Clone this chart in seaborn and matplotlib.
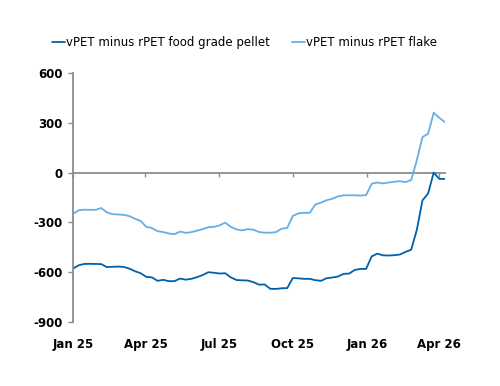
import pandas as pd
import matplotlib.pyplot as plt
import seaborn as sns

# weekly spreads, USD/t
dates = pd.date_range('2025-01-01', periods=67, freq='7D')

pellet = [-580, -560, -552, -551, -552, -553, -571, -569, -568, -570,
          -580, -596, -608, -630, -633, -654, -648, -656, -656, -640,
          -647, -642, -632, -619, -602, -605, -610, -608, -633, -649,
          -651, -652, -662, -677, -676, -702, -703, -699, -698, -637,
          -639, -642, -642, -650, -654, -638, -634, -628, -612, -610,
          -588, -582, -582, -506, -490, -500, -501, -499, -495, -479,
          -466, -346, -168, -126, 0, -38, -38]

flake = [-250, -228, -224, -225, -225, -214, -240, -251, -253, -255,
         -263, -279, -292, -328, -335, -354, -359, -368, -372, -356,
         -364, -360, -351, -342, -330, -328, -319, -302, -328, -343,
         -349, -342, -345, -359, -363, -363, -360, -339, -334, -262,
         -246, -243, -243, -193, -181, -167, -158, -144, -137, -137,
         -137, -139, -136, -67, -60, -65, -60, -55, -52, -57,
         -45, 75, 215, 235, 362, 331, 305]

series_names = ['vPET minus rPET food grade pellet', 'vPET minus rPET flake']
colors = ['#0060AA', '#66AEE6']

tick_dates = pd.to_datetime(['2025-01-01', '2025-04-01', '2025-07-01',
                             '2025-10-01', '2026-01-01', '2026-04-01'])
tick_labels = ['Jan 25', 'Apr 25', 'Jul 25', 'Oct 25', 'Jan 26', 'Apr 26']
y_ticks = [600, 300, 0, -300, -600, -900]

df = pd.DataFrame({'date': list(dates) * 2,
                   'value': pellet + flake,
                   'series': [series_names[0]] * len(dates) + [series_names[1]] * len(dates)})

sns.set_style('white')
plt.rcParams['font.family'] = ['DejaVu Sans']
plt.rcParams['text.color'] = 'black'
plt.rcParams['xtick.labelcolor'] = 'black'
plt.rcParams['ytick.labelcolor'] = 'black'

fig = plt.figure(figsize=(5, 3.86), dpi=100)
ax = fig.add_axes([0.146, 0.167, 0.744, 0.643])

sns.lineplot(data=df, x='date', y='value', hue='series', palette=colors,
             linewidth=1.3, ax=ax)

ymin, ymax = -900, 600
ax.set_ylim(ymin, ymax)
ax.set_xlim(dates[0], dates[-1])
ax.set_yticks(y_ticks)
ax.set_yticklabels([str(v) for v in y_ticks])
ax.set_xticks(tick_dates)
ax.set_xticklabels(tick_labels)
ax.set_xlabel('')
ax.set_ylabel('')

grey = '#8C8C8C'
for s in ['top', 'right', 'bottom']:
    ax.spines[s].set_visible(False)
ax.spines['left'].set_color(grey)
ax.spines['left'].set_linewidth(1.3)

ax.tick_params(axis='y', left=True, length=3.5, width=1, color=grey,
               labelcolor='black', labelsize=8.5, pad=4)
ax.tick_params(axis='x', bottom=False, labelcolor='black', labelsize=8.5, pad=8)
for lbl in ax.get_xticklabels() + ax.get_yticklabels():
    lbl.set_fontweight('bold')

# zero line carrying the date ticks
zero_pos = (0 - ymin) / (ymax - ymin)
sec = ax.secondary_xaxis(zero_pos)
sec.set_xticks(tick_dates)
sec.xaxis.set_ticks_position('bottom')
sec.tick_params(axis='x', direction='out', length=3, width=1, color=grey,
                labelbottom=False, labeltop=False)
for s in sec.spines.values():
    s.set_color(grey)
    s.set_linewidth(1.3)

leg = ax.legend(loc='lower left', bbox_to_anchor=(-0.07, 1.08), ncol=2,
                frameon=False, fontsize=8.5, handlelength=1.1,
                handletextpad=0.15, columnspacing=1.8, borderaxespad=0)
for line in leg.get_lines():
    line.set_linewidth(1.3)
for txt in leg.get_texts():
    txt.set_color('black')

fig.savefig('out.png', dpi=100)
